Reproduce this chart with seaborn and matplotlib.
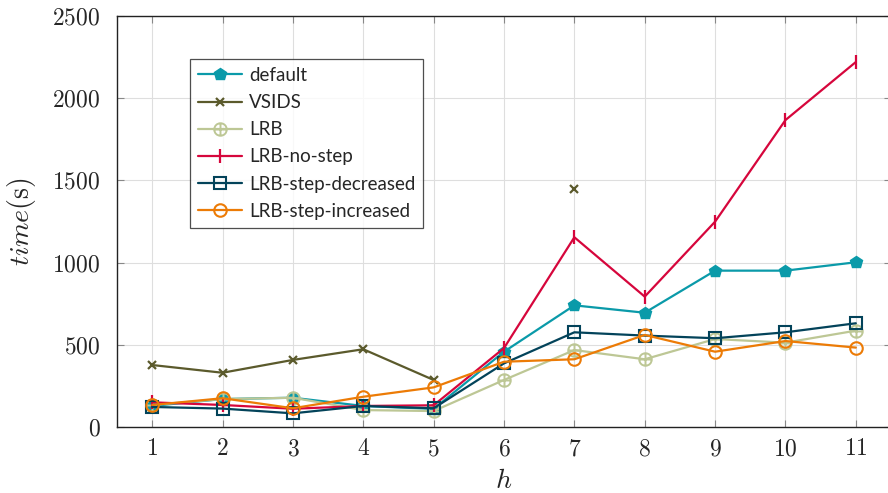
import numpy as np
import pandas as pd
import seaborn as sns
import matplotlib
matplotlib.use("Agg")
import matplotlib.pyplot as plt
from matplotlib.path import Path

# Solving time (s) per h for each heuristic
h = [1, 2, 3, 4, 5, 6, 7, 8, 9, 10, 11]
default = [128, 170, 178, 128, 110, 458, 740, 695, 951, 951, 1002]
vsids = [377, 330, 408, 473, 286, np.nan, 1446, np.nan, np.nan, np.nan, np.nan]
lrb = [134, 170, 178, 103, 97, 286, 468, 412, 535, 513, 586]
lrb_no_step = [150, 134, 111, 128, 132, 480, 1154, 793, 1249, 1867, 2220]
lrb_step_dec = [122, 112, 83, 128, 114, 387, 576, 556, 540, 576, 631]
lrb_step_inc = [134, 175, 114, 184, 241, 397, 412, 560, 458, 523, 483]

series = ["default", "VSIDS", "LRB", "LRB-no-step", "LRB-step-decreased", "LRB-step-increased"]
values = [default, vsids, lrb, lrb_no_step, lrb_step_dec, lrb_step_inc]

colors = {
    "default": "#0A9AA9",
    "VSIDS": "#5B5A2C",
    "LRB": "#BDC795",
    "LRB-no-step": "#D6063C",
    "LRB-step-decreased": "#03435A",
    "LRB-step-increased": "#EC7B06",
}

# circle with a plus inside
circ = Path.unit_circle()
plus = Path([(-1, 0), (1, 0), (0, -1), (0, 1)],
            [Path.MOVETO, Path.LINETO, Path.MOVETO, Path.LINETO])
oplus = Path.make_compound_path(circ, plus)

markers = {
    "default": dict(marker="p", ms=9, mfc=colors["default"], mec=colors["default"], mew=1),
    "VSIDS": dict(marker="x", ms=6, mfc="none", mec=colors["VSIDS"], mew=1.6),
    "LRB": dict(marker=oplus, ms=9, mfc="none", mec=colors["LRB"], mew=1.4),
    "LRB-no-step": dict(marker="|", ms=10, mfc="none", mec=colors["LRB-no-step"], mew=1.6),
    "LRB-step-decreased": dict(marker="s", ms=8, mfc="none", mec=colors["LRB-step-decreased"], mew=1.5),
    "LRB-step-increased": dict(marker="o", ms=9, mfc="none", mec=colors["LRB-step-increased"], mew=1.5),
}

sns.set_theme(style="white")
plt.rcParams["mathtext.fontset"] = "cm"
plt.rcParams["font.family"] = ["Lato", "DejaVu Sans"]

fig = plt.figure(figsize=(8.88, 4.93), dpi=100)
ax = fig.add_axes([117 / 888, 66 / 493, 774 / 888, 411 / 493])

for name, vals in zip(series, values):
    df = pd.DataFrame({"h": h, "time": vals})
    # split into contiguous runs so gaps are not bridged
    seg = df["time"].isna().cumsum()
    df["seg"] = seg
    df = df.dropna()
    first = True
    for _, part in df.groupby("seg"):
        sns.lineplot(data=part, x="h", y="time", ax=ax, color=colors[name],
                     lw=1.6, label=name if first else None, legend=False,
                     **markers[name])
        first = False

ax.set_xlim(0.5, 11.5)
ax.set_ylim(0, 2500)
ax.set_xticks(h)
ax.set_xticklabels([f"${v}$" for v in h], fontsize=17)
yt = [0, 500, 1000, 1500, 2000, 2500]
ax.set_yticks(yt)
ax.set_yticklabels([f"${v}$" for v in yt], fontsize=17)
ax.tick_params(axis="both", direction="in", length=5, width=0.8, color="#888888",
               top=True, right=True, bottom=True, left=True)
ax.tick_params(axis="y", pad=12)
ax.tick_params(axis="x", pad=8)
ax.grid(True, color="#DEDEDE", lw=0.8)
ax.set_axisbelow(True)
for s in ax.spines.values():
    s.set_color("#222222")
    s.set_linewidth(1.0)

ax.set_xlabel(r"$h$", fontsize=20, labelpad=6)
ax.set_ylabel(r"$time(\mathrm{s})$", fontsize=20, labelpad=10)

leg = ax.legend(loc="upper left", bbox_to_anchor=(0.094, 0.895), borderaxespad=0,
                fontsize=13.5, frameon=True, fancybox=False, edgecolor="#222222",
                handlelength=2.35, labelspacing=0.54, borderpad=0.42, handletextpad=0.38)
leg.get_frame().set_linewidth(0.9)

fig.savefig("out.png", dpi=100)
